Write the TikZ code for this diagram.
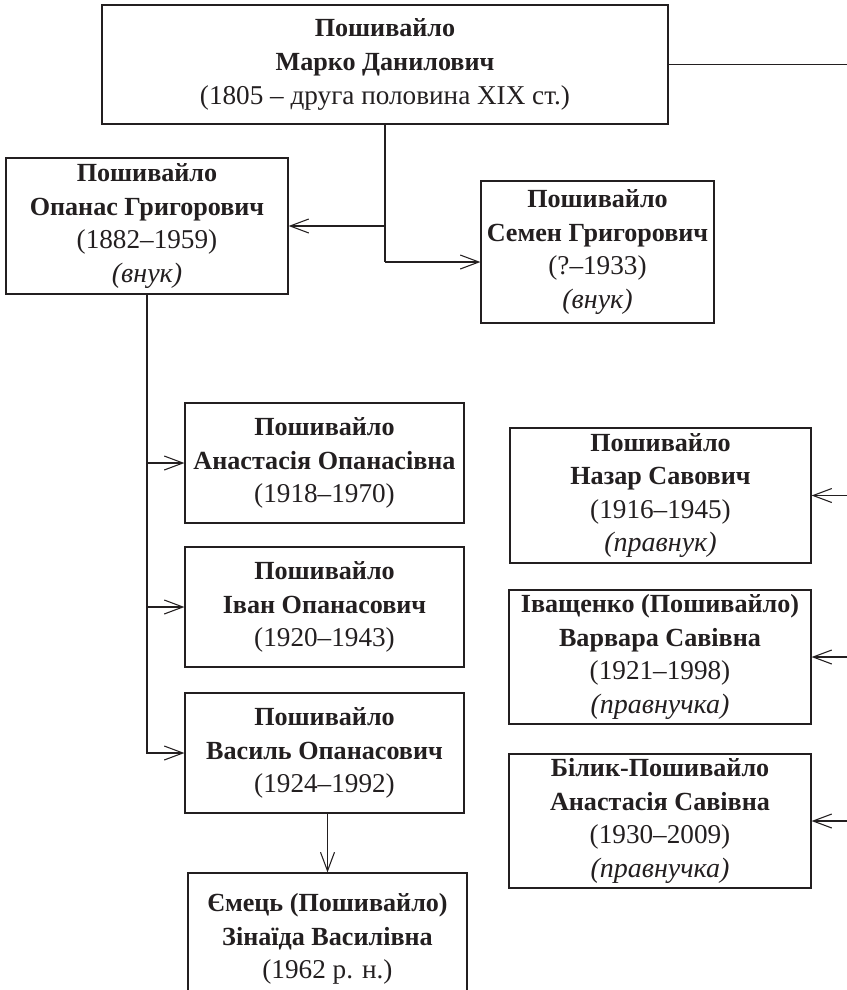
\documentclass[tikz,border=0pt]{standalone}
\usepackage{fontspec}
\setmainfont{Liberation Serif}
\usetikzlibrary{arrows.meta}
\definecolor{ink}{HTML}{231F20}
\newcommand\nmline[1]{{\fontsize{19.6pt}{24.75pt}\selectfont\bfseries #1}}
\newcommand\rlline[1]{{\fontsize{20.4pt}{24.75pt}\selectfont #1}}
\newcommand\itline[1]{{\fontsize{21pt}{24.75pt}\selectfont\itshape #1}}
\begin{document}
\begin{tikzpicture}[x=0.75pt,y=-0.75pt,
  box/.style={draw=ink,line width=0.9pt,text=ink,align=center,inner sep=0pt,
    font=\fontsize{20pt}{25.2pt}\selectfont},
  conn/.style={draw=ink,line width=0.9pt},
  arr/.style={conn,-{Straight Barb[length=14pt,width=10.5pt,line width=0.8pt]}}]
\useasboundingbox (0,0) rectangle (847,990);
\clip (0,0) rectangle (847,990);
\node[box,minimum width=424.5pt,minimum height=89.25pt] (top) at (385,64.5)
  {\nmline{Пошивайло}\\\nmline{Марко Данилович}\\\rlline{(1805 – друга половина XIX ст.)}};
\node[box,minimum width=211.5pt,minimum height=102pt] (opanas) at (147,226)
  {\nmline{Пошивайло}\\\nmline{Опанас Григорович}\\\rlline{(1882–1959)}\\\itline{(внук)}};
\node[box,minimum width=174.75pt,minimum height=106.5pt] (semen) at (597.5,252)
  {\nmline{Пошивайло}\\\nmline{Семен Григорович}\\\rlline{(?–1933)}\\\itline{(внук)}};
\node[box,minimum width=209.25pt,minimum height=90pt] (anast) at (324.5,463)
  {\nmline{Пошивайло}\\\nmline{Анастасія Опанасівна}\\\rlline{(1918–1970)}};
\node[box,minimum width=209.25pt,minimum height=90pt] (ivan) at (324.5,607)
  {\nmline{Пошивайло}\\\nmline{Іван Опанасович}\\\rlline{(1920–1943)}};
\node[box,minimum width=209.25pt,minimum height=90pt] (vasyl) at (324.5,753)
  {\nmline{Пошивайло}\\\nmline{Василь Опанасович}\\\rlline{(1924–1992)}};
\node[box,minimum width=209.25pt,minimum height=99pt] (zina) at (327.5,939)
  {\nmline{Ємець (Пошивайло)}\\\nmline{Зінаїда Василівна}\\\rlline{(1962 р. н.)}};
\node[box,minimum width=225.75pt,minimum height=101.25pt] (nazar) at (660.5,495.5)
  {\nmline{Пошивайло}\\\nmline{Назар Савович}\\\rlline{(1916–1945)}\\\itline{(правнук)}};
\node[box,minimum width=226.5pt,minimum height=100.5pt] (varvara) at (660,657)
  {\nmline{Іващенко (Пошивайло)}\\\nmline{Варвара Савівна}\\\rlline{(1921–1998)}\\\itline{(правнучка)}};
\node[box,minimum width=226.5pt,minimum height=100.5pt] (bilik) at (660,821)
  {\nmline{Білик-Пошивайло}\\\nmline{Анастасія Савівна}\\\rlline{(1930–2009)}\\\itline{(правнучка)}};
\coordinate (R) at (847,0);
\coordinate (j1) at (385,226);
\coordinate (j2) at (385,262);
\draw[conn] (top.east) -- (top.east -| R);
\draw[conn] (top.south) -- (j2);
\draw[arr] (j1) -- (opanas.east);
\draw[arr] (j2) -- (j2 -| semen.west);
\draw[arr] (opanas.south) |- (vasyl.west);
\draw[arr] (opanas.south |- anast.west) -- (anast.west);
\draw[arr] (opanas.south |- ivan.west) -- (ivan.west);
\draw[arr] (vasyl.south -| zina.north) -- (zina.north);
\draw[arr] (nazar.east -| R) -- (nazar.east);
\draw[arr] (varvara.east -| R) -- (varvara.east);
\draw[arr] (bilik.east -| R) -- (bilik.east);
\end{tikzpicture}
\end{document}
